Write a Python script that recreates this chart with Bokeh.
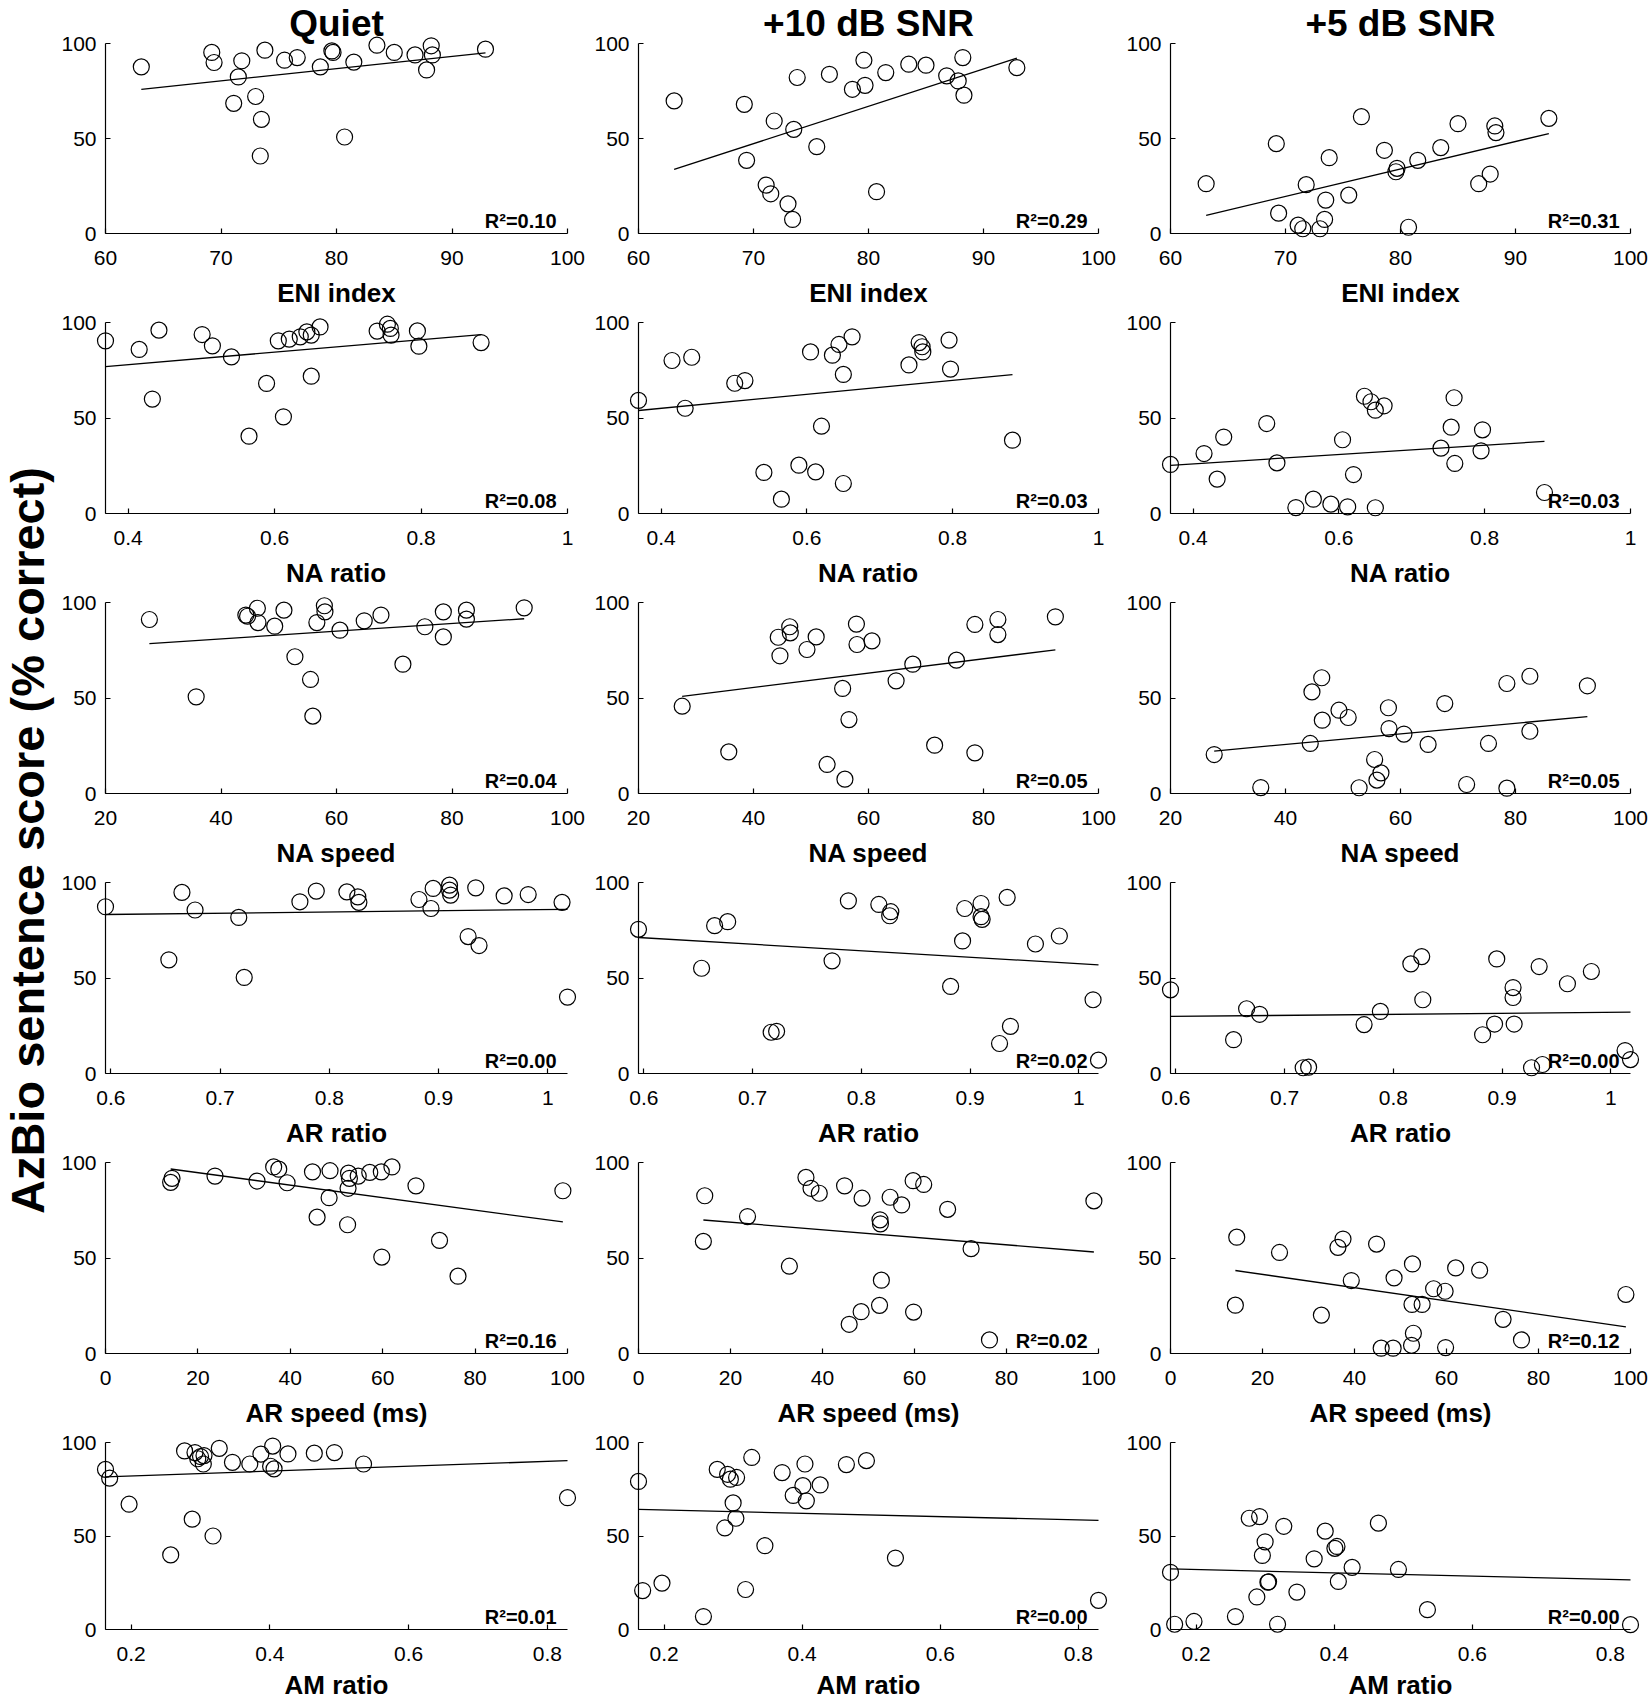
import numpy as np
from bokeh.plotting import figure
from bokeh.models import Range1d, FixedTicker, Label, NumeralTickFormatter
from bokeh.layouts import row, column
from bokeh.embed import file_html
from bokeh.resources import INLINE

FONT = "Liberation Sans"

column_titles = ["Quiet", "+10 dB SNR", "+5 dB SNR"]
y_label = "AzBio sentence score (% correct)"
y_ticks = [0, 50, 100]

# ---------------- Row 1: ENI index ----------------
eni_x = [63.1, 69.2, 69.4, 71.1, 71.5, 71.8, 73.0, 73.4, 73.5, 73.8, 75.5, 76.6,
         78.6, 79.6, 79.7, 80.7, 81.5, 83.5, 85.0, 86.8, 87.8, 88.2, 88.3, 92.9]
eni_quiet = [87.7, 95.3, 90.0, 68.5, 82.4, 90.9, 72.1, 40.8, 60.1, 96.5, 91.2, 92.6,
             87.7, 96.1, 95.3, 50.8, 90.2, 99.1, 95.3, 94.0, 86.1, 98.8, 94.0, 97.0]
eni_snr10 = [69.8, 68.0, 38.5, 25.5, 20.9, 59.2, 15.6, 7.4, 54.8, 82.1, 45.7, 83.8,
             75.9, 91.2, 78.0, 22.0, 84.7, 89.1, 88.6, 83.0, 80.3, 92.6, 72.8, 87.3]
eni_snr5 = [26.2, 47.3, 10.7, 4.4, 2.5, 25.7, 2.5, 7.4, 17.6, 39.9, 20.2, 61.5,
            43.8, 32.5, 34.3, 3.3, 38.5, 45.2, 57.8, 26.2, 31.3, 56.6, 53.1, 60.6]
eni_ticks = [60, 70, 80, 90, 100]
eni_r2 = ["R\u00b2=0.10", "R\u00b2=0.29", "R\u00b2=0.31"]

# ---------------- Row 2: NA ratio ----------------
na_ratio_x = [0.369, 0.415, 0.433, 0.442, 0.501, 0.515, 0.541, 0.565, 0.589, 0.605, 0.612, 0.620,
              0.635, 0.644, 0.650, 0.650, 0.662, 0.740, 0.754, 0.758, 0.759, 0.795, 0.797, 0.882]
na_ratio_quiet = [90.4, 85.9, 59.9, 96.0, 93.7, 87.8, 82.0, 40.5, 68.1, 90.4, 50.6, 91.3,
                  92.5, 95.1, 71.9, 93.4, 97.7, 95.5, 99.1, 96.9, 93.4, 95.6, 87.6, 89.5]
na_ratio_snr10 = [59.2, 80.1, 55.1, 81.8, 68.2, 69.6, 21.5, 7.5, 25.3, 84.6, 21.8, 45.7,
                  82.9, 88.5, 15.7, 72.8, 92.5, 77.8, 89.5, 87.3, 84.6, 90.8, 75.6, 38.4]
na_ratio_snr5 = [25.7, 31.4, 18.0, 40.0, 47.1, 26.5, 3.1, 7.5, 4.9, 38.6, 3.5, 20.4,
                 61.4, 58.5, 3.0, 54.1, 56.4, 34.2, 45.2, 60.6, 26.2, 32.8, 43.8, 11.0]
na_ratio_ticks = [0.4, 0.6, 0.8, 1.0]
na_ratio_r2 = ["R\u00b2=0.08", "R\u00b2=0.03", "R\u00b2=0.03"]

# ---------------- Row 3: NA speed ----------------
na_speed_x = [27.6, 35.7, 44.3, 44.6, 46.3, 46.4, 49.3, 50.9, 52.8, 55.5, 55.9, 56.6,
              57.9, 58.0, 60.6, 64.8, 67.7, 71.5, 75.3, 78.5, 78.5, 82.5, 82.5, 92.5]
na_speed_quiet = [91.1, 50.6, 93.4, 92.8, 97.0, 89.5, 87.6, 96.0, 71.6, 59.7, 40.5, 89.5,
                  98.3, 95.1, 85.5, 90.4, 93.4, 67.7, 87.3, 95.1, 82.0, 96.0, 91.3, 97.2]
na_speed_snr10 = [45.7, 21.8, 81.8, 72.1, 87.3, 84.1, 75.4, 82.0, 15.2, 55.0, 7.5, 38.7,
                  88.7, 78.0, 79.9, 59.0, 67.7, 25.3, 69.8, 88.5, 21.3, 91.1, 83.2, 92.5]
na_speed_snr5 = [20.4, 3.1, 26.2, 53.2, 60.6, 38.4, 43.6, 39.8, 3.0, 17.8, 7.0, 10.8,
                 44.9, 34.0, 31.1, 25.7, 47.1, 4.7, 26.2, 57.6, 2.8, 32.6, 61.4, 56.4]
na_speed_ticks = [20, 40, 60, 80, 100]
na_speed_r2 = ["R\u00b2=0.04", "R\u00b2=0.05", "R\u00b2=0.05"]

# ---------------- Row 4: AR ratio ----------------
ar_ratio_x = [0.595, 0.653, 0.665, 0.677, 0.717, 0.722, 0.773, 0.788, 0.816, 0.826, 0.827, 0.882,
              0.893, 0.895, 0.910, 0.910, 0.911, 0.927, 0.934, 0.937, 0.960, 0.982, 1.013, 1.018]
ar_ratio_quiet = [87.3, 59.5, 94.8, 85.6, 81.7, 50.3, 89.9, 95.5, 95.1, 92.5, 89.6, 91.1,
                  86.4, 96.9, 98.6, 96.0, 93.4, 71.7, 97.2, 67.0, 93.0, 93.7, 89.6, 40.0]
ar_ratio_snr10 = [75.5, 55.1, 77.4, 79.5, 21.6, 22.1, 59.0, 90.4, 88.5, 82.6, 84.7, 45.6,
                  69.4, 86.4, 89.0, 82.1, 80.7, 15.7, 92.2, 24.7, 67.8, 72.0, 38.6, 7.0]
ar_ratio_snr5 = [43.8, 17.7, 33.9, 31.0, 3.0, 3.3, 25.6, 32.5, 57.4, 61.2, 38.6, 20.3,
                 25.9, 60.0, 45.0, 39.8, 25.9, 3.0, 56.0, 4.7, 47.0, 53.4, 12.0, 7.3]
ar_ratio_ticks = [0.6, 0.7, 0.8, 0.9, 1.0]
ar_ratio_r2 = ["R\u00b2=0.00", "R\u00b2=0.02", "R\u00b2=0.00"]

# ---------------- Row 5: AR speed (ms) ----------------
ar_speed_x = [14.1, 14.4, 23.7, 32.8, 36.4, 37.5, 39.3, 44.8, 45.8, 48.4, 48.6, 52.4,
              52.5, 52.6, 52.8, 54.7, 57.2, 59.7, 59.8, 62.0, 67.2, 72.3, 76.3, 99.0]
ar_speed_quiet = [89.6, 91.7, 92.9, 90.3, 97.7, 96.5, 89.4, 95.1, 71.4, 81.6, 95.7, 67.4,
                  86.5, 94.4, 91.7, 92.9, 94.8, 95.1, 50.5, 97.7, 87.8, 59.2, 40.5, 85.2]
ar_speed_snr10 = [58.7, 82.6, 71.7, 45.7, 92.2, 86.5, 83.9, 87.8, 15.3, 21.9, 81.3, 25.2,
                  70.0, 67.9, 38.4, 81.8, 77.8, 90.5, 21.7, 88.5, 75.5, 54.9, 7.1, 79.9]
ar_speed_snr5 = [25.3, 60.9, 52.9, 20.1, 55.6, 59.9, 38.2, 57.3, 2.8, 2.8, 39.6, 4.3,
                 25.7, 46.9, 10.6, 25.7, 33.9, 32.6, 3.1, 44.8, 43.6, 17.9, 7.1, 30.9]
ar_speed_ticks = [0, 20, 40, 60, 80, 100]
ar_speed_r2 = ["R\u00b2=0.16", "R\u00b2=0.02", "R\u00b2=0.12"]

# ---------------- Row 6: AM ratio ----------------
am_ratio_x = [0.163, 0.169, 0.197, 0.257, 0.277, 0.288, 0.292, 0.296, 0.300, 0.304, 0.305, 0.318,
              0.327, 0.346, 0.371, 0.387, 0.401, 0.404, 0.406, 0.426, 0.464, 0.493, 0.535, 0.829]
am_ratio_quiet = [85.6, 80.9, 67.0, 39.9, 95.5, 59.0, 94.6, 91.3, 92.5, 88.5, 93.0, 50.0,
                  96.9, 89.4, 88.5, 93.8, 87.3, 98.1, 85.9, 93.9, 94.3, 94.6, 88.5, 70.5]
am_ratio_snr10 = [79.2, 20.8, 24.8, 6.9, 85.6, 54.3, 83.0, 80.4, 67.7, 59.5, 81.3, 21.4,
                  92.0, 44.8, 83.9, 71.7, 76.9, 88.5, 68.8, 77.3, 88.2, 90.3, 38.2, 15.6]
am_ratio_snr5 = [30.6, 2.8, 4.3, 6.9, 59.5, 17.4, 60.4, 39.6, 46.9, 25.3, 25.5, 2.8,
                 55.2, 20.0, 37.8, 52.6, 43.4, 44.4, 25.7, 33.2, 56.9, 32.1, 10.6, 2.6]
am_ratio_ticks = [0.2, 0.4, 0.6, 0.8]
am_ratio_r2 = ["R\u00b2=0.01", "R\u00b2=0.00", "R\u00b2=0.00"]

rows_spec = [
    dict(label="ENI index", x=eni_x, ys=[eni_quiet, eni_snr10, eni_snr5],
         lim=(60, 100), ticks=eni_ticks, r2=eni_r2),
    dict(label="NA ratio", x=na_ratio_x, ys=[na_ratio_quiet, na_ratio_snr10, na_ratio_snr5],
         lim=(min(na_ratio_x), 1.0), ticks=na_ratio_ticks, r2=na_ratio_r2),
    dict(label="NA speed", x=na_speed_x, ys=[na_speed_quiet, na_speed_snr10, na_speed_snr5],
         lim=(20, 100), ticks=na_speed_ticks, r2=na_speed_r2),
    dict(label="AR ratio", x=ar_ratio_x, ys=[ar_ratio_quiet, ar_ratio_snr10, ar_ratio_snr5],
         lim=(min(ar_ratio_x), max(ar_ratio_x)), ticks=ar_ratio_ticks, r2=ar_ratio_r2),
    dict(label="AR speed (ms)", x=ar_speed_x, ys=[ar_speed_quiet, ar_speed_snr10, ar_speed_snr5],
         lim=(0, 100), ticks=ar_speed_ticks, r2=ar_speed_r2),
    dict(label="AM ratio", x=am_ratio_x, ys=[am_ratio_quiet, am_ratio_snr10, am_ratio_snr5],
         lim=(min(am_ratio_x), max(am_ratio_x)), ticks=am_ratio_ticks, r2=am_ratio_r2),
]

# ---------------- layout (pixels) ----------------
YLAB_W = 58
col_left = [47, 49, 49]
axis_w = [462, 460, 460]
col_right = [22, 23, 18]
col_w = [col_left[i] + axis_w[i] + col_right[i] for i in range(3)]
AXIS_H = 191
row_top = [42, 12, 12, 12, 12, 12]
row_bottom = [77, 77, 77, 77, 77, 69]
row_h = [row_top[i] + AXIS_H + row_bottom[i] for i in range(6)]
TOTAL_H = sum(row_h)


def style_axis(ax):
    ax.axis_line_color = "black"
    ax.axis_line_width = 1.2
    ax.major_tick_line_color = "black"
    ax.major_tick_line_width = 1.2
    ax.major_tick_in = 5
    ax.major_tick_out = 0
    ax.minor_tick_line_color = None
    ax.major_label_text_font = FONT
    ax.major_label_text_font_size = "21px"
    ax.major_label_text_color = "black"
    ax.formatter = NumeralTickFormatter(format="0.[0]")


def make_panel(r, c):
    spec = rows_spec[r]
    x = np.array(spec["x"], dtype=float)
    y = np.array(spec["ys"][c], dtype=float)
    x0, x1 = spec["lim"]
    p = figure(width=col_w[c], height=row_h[r],
               x_range=Range1d(x0, x1), y_range=Range1d(0, 100),
               min_border_left=col_left[c], min_border_right=col_right[c],
               min_border_top=row_top[r], min_border_bottom=row_bottom[r],
               toolbar_location=None, output_backend="svg",
               title=column_titles[c] if r == 0 else None)
    if r == 0:
        p.title.align = "center"
        p.title.standoff = 0
        p.title.text_font = FONT
        p.title.text_font_size = "37px"
        p.title.text_font_style = "bold"
        p.title.text_color = "black"
    p.grid.visible = False
    p.outline_line_color = None
    p.background_fill_color = "white"
    p.border_fill_color = "white"

    xa = p.xaxis[0]
    style_axis(xa)
    xa.ticker = FixedTicker(ticks=spec["ticks"])
    xa.major_label_standoff = 17
    xa.axis_label = spec["label"]
    xa.axis_label_text_font = FONT
    xa.axis_label_text_font_size = "26px"
    xa.axis_label_text_font_style = "bold"
    xa.axis_label_text_color = "black"
    xa.axis_label_standoff = 10 if r < 5 else 6

    ya = p.yaxis[0]
    style_axis(ya)
    ya.ticker = FixedTicker(ticks=y_ticks)
    ya.major_label_standoff = 9

    # least-squares regression line over the data span
    slope, intercept = np.polyfit(x, y, 1)
    lx = np.array([x.min(), x.max()])
    p.line(lx, slope * lx + intercept, line_color="black", line_width=1.3, level="overlay")

    p.scatter(x, y, marker="circle", size=16, fill_color=None,
              line_color="black", line_width=1.2, level="overlay")

    p.add_layout(Label(x=x1, y=0, x_offset=-11, y_offset=13, text=spec["r2"][c],
                       text_align="right", text_baseline="middle",
                       text_font=FONT, text_font_size="20px", text_font_style="bold",
                       text_color="black"))
    return p


grid_rows = [row(*[make_panel(r, c) for c in range(3)]) for r in range(6)]

ylab = figure(width=YLAB_W, height=TOTAL_H, x_range=Range1d(0, YLAB_W), y_range=Range1d(0, TOTAL_H),
              x_axis_location=None, y_axis_location=None, min_border=0,
              toolbar_location=None, output_backend="svg", title=None)
ylab.outline_line_color = None
ylab.grid.visible = False
ylab.add_layout(Label(x=27, y=TOTAL_H - 840, text=y_label, angle=np.pi / 2,
                      text_align="center", text_baseline="middle",
                      text_font=FONT, text_font_size="47px", text_font_style="bold",
                      text_color="black"))

layout = row(ylab, column(*grid_rows))

open("out.html", "w").write(file_html(layout, INLINE))
